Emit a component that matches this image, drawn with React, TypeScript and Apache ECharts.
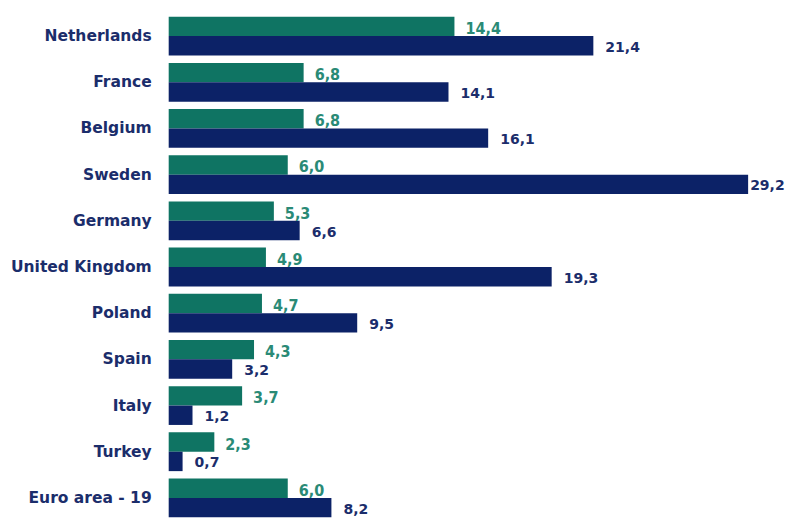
import React, { useEffect, useRef } from "react";
import * as echarts from "echarts";

const categories = [
  "Netherlands",
  "France",
  "Belgium",
  "Sweden",
  "Germany",
  "United Kingdom",
  "Poland",
  "Spain",
  "Italy",
  "Turkey",
  "Euro area - 19",
];
const greenValues = [14.4, 6.8, 6.8, 6.0, 5.3, 4.9, 4.7, 4.3, 3.7, 2.3, 6.0];
const navyValues = [21.4, 14.1, 16.1, 29.2, 6.6, 19.3, 9.5, 3.2, 1.2, 0.7, 8.2];

const fmt = (p: any) => Number(p.value).toFixed(1).replace(".", ",");

export default function App() {
  const ref = useRef<HTMLDivElement>(null);
  useEffect(() => {
    const chart = echarts.init(ref.current!, null, { renderer: "svg" });
    const maxNavy = Math.max(...navyValues);
    chart.setOption({
      animation: false,
      backgroundColor: "#ffffff",
      grid: { left: 159, right: 34, top: 5, bottom: 6, containLabel: false },
      xAxis: {
        type: "value",
        min: 0,
        max: 30,
        show: false,
      },
      yAxis: {
        type: "category",
        data: categories,
        inverse: true,
        axisLine: { show: false },
        axisTick: { show: false },
        axisLabel: {
          color: "#1b2d6b",
          fontWeight: "bold",
          fontSize: 15.5,
          fontFamily: "DejaVu Sans",
          margin: 17,
        },
      },
      series: [
        {
          type: "bar",
          data: greenValues,
          barGap: "0%",
          barCategoryGap: "16%",
          itemStyle: { color: "#0f7463" },
          label: {
            show: true,
            position: "right",
            distance: 11,
            offset: [0, 2],
            formatter: fmt,
            color: "#2a8a76",
            fontSize: 16,
            fontWeight: "bold",
            fontFamily: "DejaVu Sans Condensed",
          },
        },
        {
          type: "bar",
          data: navyValues.map((v) =>
            v === maxNavy ? { value: v, label: { distance: 2 } } : v
          ),
          itemStyle: { color: "#0c2267" },
          label: {
            show: true,
            position: "right",
            distance: 12,
            offset: [0, 1],
            formatter: fmt,
            color: "#1b2d6b",
            fontSize: 14,
            fontWeight: "bold",
            fontFamily: "DejaVu Sans",
          },
        },
      ],
    });
    return () => chart.dispose();
  }, []);
  return <div ref={ref} style={{ width: 790, height: 519 }} />;
}
